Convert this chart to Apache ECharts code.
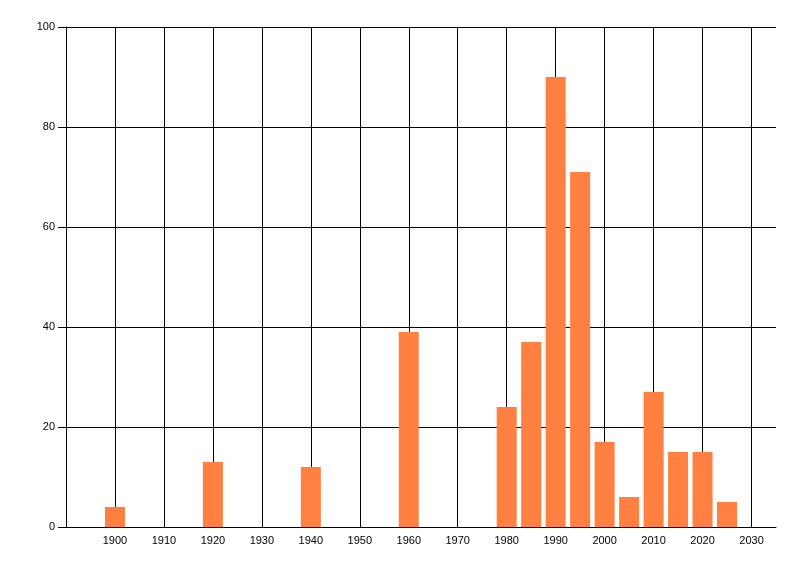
<!DOCTYPE html>
<html>
<head>
<meta charset="utf-8">
<script src="https://cdn.jsdelivr.net/npm/echarts@6/dist/echarts.min.js"></script>
<style>
html,body{margin:0;padding:0;background:#fff;}
#chart{width:800px;height:576px;}
</style>
</head>
<body>
<div id="chart"></div>
<script>
const years = [1900, 1920, 1940, 1960, 1980, 1985, 1990, 1995, 2000, 2005, 2010, 2015, 2020, 2025];
const counts = [4, 13, 12, 39, 24, 37, 90, 71, 17, 6, 27, 15, 15, 5];
const xTicks = [1900, 1910, 1920, 1930, 1940, 1950, 1960, 1970, 1980, 1990, 2000, 2010, 2020, 2030];
const yTicks = [0, 20, 40, 60, 80, 100];

const chart = echarts.init(document.getElementById('chart'));
const font = 'Liberation Sans, Arial, sans-serif';
chart.setOption({
  animation: false,
  backgroundColor: '#ffffff',
  grid: { left: 66, top: 27, right: 24, bottom: 49, containLabel: false },
  xAxis: {
    type: 'value',
    min: 1890,
    max: 2035,
    interval: 10,
    axisLine: { show: true, lineStyle: { color: '#000', width: 1 } },
    axisTick: { show: false },
    axisLabel: {
      color: '#000', fontSize: 11, fontFamily: font, margin: 8,
      formatter: v => xTicks.indexOf(v) >= 0 ? String(v) : ''
    },
    splitLine: { show: true, showMinLine: false, showMaxLine: false, lineStyle: { color: '#000', width: 1 } }
  },
  yAxis: {
    type: 'value',
    min: yTicks[0],
    max: yTicks[yTicks.length - 1],
    interval: 20,
    axisLine: { show: true, lineStyle: { color: '#000', width: 1 } },
    axisTick: { show: true, length: 8, lineStyle: { color: '#000', width: 1 } },
    axisLabel: { color: '#000', fontSize: 11, fontFamily: font, margin: 11 },
    splitLine: { show: true, lineStyle: { color: '#000', width: 1 } }
  },
  series: [{
    type: 'bar',
    data: years.map((y, i) => [y, counts[i]]),
    barWidth: 20,
    itemStyle: { color: '#FF8040' },
    silent: true
  }]
});
</script>
</body>
</html>
